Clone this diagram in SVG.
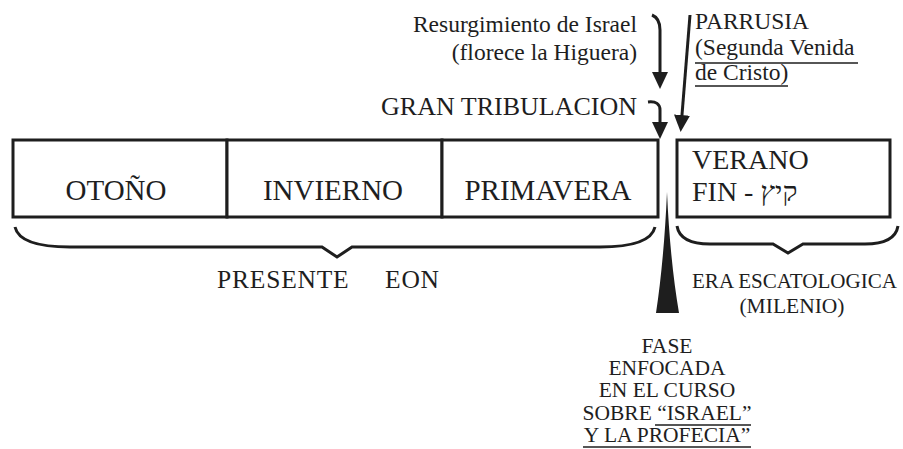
<svg xmlns="http://www.w3.org/2000/svg" width="903" height="449" viewBox="0 0 903 449">
<style>
  text { font-family: "Liberation Serif", "Times New Roman", "DejaVu Serif", serif; fill: #1e1e1e; }
  .box { fill: #ffffff; stroke: #1e1e1e; stroke-width: 3; }
  .season { font-size: 29px; text-anchor: middle; }
  .lbl { font-size: 23.5px; }
  .small { font-size: 21.5px; text-anchor: middle; }
  .conn { fill: none; stroke: #1e1e1e; stroke-width: 3; }
  .brace { fill: none; stroke: #1e1e1e; stroke-width: 3; stroke-linejoin: miter; }
  .ul { stroke: #1e1e1e; stroke-width: 1.5; }
</style>
<defs>
  <marker id="ah" markerUnits="userSpaceOnUse" viewBox="0 0 17 16" markerWidth="17" markerHeight="16" refX="6" refY="8" orient="auto">
    <path d="M0,0 L17,8 L0,16 z" fill="#1e1e1e"/>
  </marker>
</defs>
<rect width="903" height="449" fill="#ffffff"/>

<g id="node-otono">
  <rect class="box" x="13" y="140" width="214" height="77"/>
  <text class="season" x="116" y="200">OTOÑO</text>
</g>
<g id="node-invierno">
  <rect class="box" x="227" y="140" width="215" height="77"/>
  <text class="season" x="333" y="200">INVIERNO</text>
</g>
<g id="node-primavera">
  <rect class="box" x="442" y="140" width="216" height="77"/>
  <text class="season" x="548" y="200">PRIMAVERA</text>
</g>
<g id="node-verano">
  <rect class="box" x="677" y="140" width="213" height="77"/>
  <text x="692" y="169" font-size="28">VERANO</text>
  <text x="692" y="201" font-size="28">FIN - <tspan font-family="'Liberation Serif', 'DejaVu Sans', serif">קיץ</tspan></text>
</g>

<g id="braces">
  <path class="brace" d="M15,227 C18,240 35,247 70,247 L322,247 L337,257 L352,247 L600,247 C635,247 652,240 655,227"/>
  <path class="brace" d="M677,226 C679,238 690,244 710,244 L773,244 L788,253 L803,244 L865,244 C885,244 896,238 898,226"/>
</g>

<g id="node-spike">
  <path d="M667,192 Q670,260 679,313 L656,313 Q664,260 667,192 z" fill="#1e1e1e"/>
</g>

<g id="connectors">
  <path class="conn" d="M652,15 C657,17 660,22 660,30 L660,78" marker-end="url(#ah)"/>
  <path class="conn" d="M648,102 C656,101 660,104 660,110 L660,128" marker-end="url(#ah)"/>
  <path class="conn" d="M690,15 L681.5,121" marker-end="url(#ah)"/>
</g>

<g id="label-resurgimiento">
  <text class="lbl" x="637" y="32" text-anchor="end">Resurgimiento de Israel</text>
  <text class="lbl" x="637" y="60" text-anchor="end">(florece la Higuera)</text>
</g>
<g id="label-tribulacion">
  <text x="637" y="115" font-size="26" text-anchor="end">GRAN TRIBULACION</text>
</g>
<g id="label-parrusia">
  <text class="lbl" x="695" y="29">PARRUSIA</text>
  <text class="lbl" x="695" y="55">(Segunda Venida</text>
  <text class="lbl" x="695" y="80">de Cristo)</text>
  <line class="ul" x1="695" y1="63" x2="858" y2="63"/>
  <line class="ul" x1="695" y1="86" x2="788" y2="86"/>
</g>
<g id="label-presente">
  <text x="217" y="288" font-size="25.5" letter-spacing="0.8">PRESENTE <tspan x="385">EON</tspan></text>
</g>
<g id="label-era">
  <text class="small" x="794.5" y="288" textLength="205" lengthAdjust="spacingAndGlyphs">ERA ESCATOLOGICA</text>
  <text class="small" x="792" y="313">(MILENIO)</text>
</g>
<g id="label-fase">
  <text class="small" x="667" y="353">FASE</text>
  <text class="small" x="667" y="375">ENFOCADA</text>
  <text class="small" x="667" y="397">EN EL CURSO</text>
  <text class="small" x="667" y="420">SOBRE “ISRAEL”</text>
  <text class="small" x="667" y="442">Y LA PROFECIA”</text>
  <line class="ul" x1="655" y1="425" x2="751" y2="425"/>
  <line class="ul" x1="583" y1="447" x2="751" y2="447"/>
</g>
</svg>
